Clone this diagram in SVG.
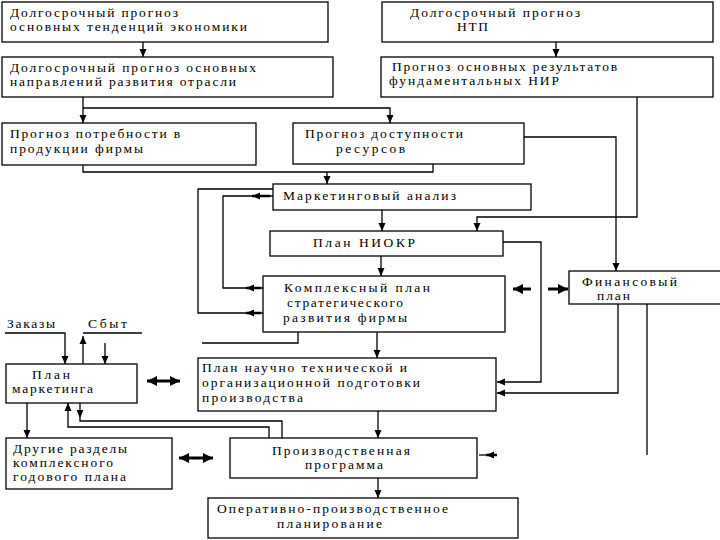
<svg xmlns="http://www.w3.org/2000/svg" width="720" height="540" viewBox="0 0 720 540">
<style>
.box{fill:#fff;stroke:#000;stroke-width:1.3}
.t{font-family:"Liberation Serif","Times New Roman",serif;font-size:13.5px;fill:#000}
.c{fill:none;stroke:#000;stroke-width:1.3}
.a{marker-end:url(#ah)}
.th{fill:none;stroke:#000;stroke-width:3}
</style>
<defs>
<marker id="ah" markerUnits="userSpaceOnUse" markerWidth="9" markerHeight="8" refX="8" refY="4" orient="auto"><path d="M0,0.5 L8,4 L0,7.5 z" fill="#000"/></marker>
<marker id="bh" markerUnits="userSpaceOnUse" markerWidth="11" markerHeight="10" refX="10" refY="5" orient="auto-start-reverse"><path d="M0,0 L10,5 L0,10 z" fill="#000"/></marker>
</defs>
<rect width="720" height="540" fill="#fff"/>

<g id="connectors">
<path class="c a" d="M143,42 V57"/>
<path class="c a" d="M556,42 V57"/>
<path class="c a" d="M83,97 V123"/>
<path class="c a" d="M83,108 H390 V123"/>
<path class="c" d="M83,165 V172 H433 V164"/>
<path class="c a" d="M327,172 V184"/>
<path class="c a" d="M382,210 V231"/>
<path class="c a" d="M381,256 V276"/>
<path class="c a" d="M637,97 V217 H477 V231"/>
<path class="c a" d="M524,137 H616 V271"/>
<path class="c a" d="M503,242 H541 V382 H497"/>
<path class="c a" d="M618,304 V393 H497"/>
<path class="c" d="M647,304 V455"/>
<path class="th" style="marker-end:url(#bh)" d="M531,289 H513"/>
<path class="th" style="marker-end:url(#bh)" d="M548,289 H568"/>
<path class="c" d="M273,196 H223 V288 H263"/>
<path class="c" d="M273,189 H198 V313 H263"/>
<path class="th" style="stroke-width:2.5;marker-end:url(#ah)" d="M270,196 H252"/>
<path class="th" style="stroke-width:2.5;marker-end:url(#ah)" d="M261,288 H246"/>
<path class="th" style="stroke-width:2.5;marker-end:url(#ah)" d="M261,313 H246"/>
<path class="c" d="M298,332 V343 H202"/>
<path class="c a" d="M377,332 V358"/>
<path class="c a" d="M378,411 V438"/>
<path class="c a" d="M378,478 V498"/>
<path class="c" d="M479,455 H490"/>
<path class="th" style="stroke-width:2.5;marker-end:url(#ah)" d="M497,455 H486"/>
<path class="c a" d="M5,333 H65 V364"/>
<path class="c" d="M83,333 H142"/>
<path class="c a" d="M83,364 V336"/>
<path class="c a" d="M105,343 V364"/>
<path class="th" style="marker-start:url(#bh);marker-end:url(#bh)" d="M147,381 H180"/>
<path class="c a" d="M27,403 V438"/>
<path class="c a" d="M80,403 V418"/>
<path class="c" d="M80,418 V421 H282 V438"/>
<path class="c a" d="M269,438 V427 H68 V403"/>
<path class="th" style="marker-start:url(#bh);marker-end:url(#bh)" d="M179,458 H213"/>
</g>

<g id="n1"><rect class="box" x="2" y="2" width="326" height="40"/>
<text class="t" x="10" y="17" textLength="168" lengthAdjust="spacing">Долгосрочный прогноз</text>
<text class="t" x="10" y="31" textLength="237" lengthAdjust="spacing">основных тенденций экономики</text></g>

<g id="n2"><rect class="box" x="2" y="57" width="331" height="40"/>
<text class="t" x="10" y="72" textLength="246" lengthAdjust="spacing">Долгосрочный прогноз основных</text>
<text class="t" x="10" y="86" textLength="226" lengthAdjust="spacing">направлений развития отрасли</text></g>

<g id="n3"><rect class="box" x="2" y="123" width="254" height="42"/>
<text class="t" x="10" y="138" textLength="170" lengthAdjust="spacing">Прогноз потребности в</text>
<text class="t" x="10" y="153" textLength="133" lengthAdjust="spacing">продукции фирмы</text></g>

<g id="n4"><rect class="box" x="293" y="123" width="231" height="41"/>
<text class="t" x="305" y="138" textLength="158" lengthAdjust="spacing">Прогноз доступности</text>
<text class="t" x="336" y="153" textLength="69" lengthAdjust="spacing">ресурсов</text></g>

<g id="n5"><rect class="box" x="382" y="2" width="331" height="40"/>
<text class="t" x="410" y="17" textLength="170" lengthAdjust="spacing">Долгосрочный прогноз</text>
<text class="t" x="457" y="31" textLength="31" lengthAdjust="spacing">НТП</text></g>

<g id="n6"><rect class="box" x="381" y="57" width="332" height="40"/>
<text class="t" x="392" y="71" textLength="225" lengthAdjust="spacing">Прогноз основных результатов</text>
<text class="t" x="389" y="85" textLength="170" lengthAdjust="spacing">фундаментальных НИР</text></g>

<g id="n7"><rect class="box" x="273" y="184" width="258" height="26"/>
<text class="t" x="283" y="200" textLength="173" lengthAdjust="spacing">Маркетинговый анализ</text></g>

<g id="n8"><rect class="box" x="270" y="231" width="233" height="25"/>
<text class="t" x="313" y="247" textLength="102" lengthAdjust="spacing">План НИОКР</text></g>

<g id="n9"><rect class="box" x="263" y="276" width="242" height="56"/>
<text class="t" x="284" y="292" textLength="146" lengthAdjust="spacing">Комплексный план</text>
<text class="t" x="287" y="307" textLength="116" lengthAdjust="spacing">стратегического</text>
<text class="t" x="283" y="322" textLength="124" lengthAdjust="spacing">развития фирмы</text></g>

<g id="n10"><rect class="box" x="569" y="271" width="160" height="33"/>
<text class="t" x="582" y="286" textLength="95" lengthAdjust="spacing">Финансовый</text>
<text class="t" x="597" y="300" textLength="33" lengthAdjust="spacing">план</text></g>

<g id="n11"><rect class="box" x="198" y="358" width="298" height="53"/>
<text class="t" x="202" y="372" textLength="205" lengthAdjust="spacing">План научно технической и</text>
<text class="t" x="202" y="387" textLength="218" lengthAdjust="spacing">организационной подготовки</text>
<text class="t" x="202" y="402" textLength="101" lengthAdjust="spacing">производства</text></g>

<g id="n12"><rect class="box" x="230" y="438" width="247" height="40"/>
<text class="t" x="272" y="455" textLength="138" lengthAdjust="spacing">Производственная</text>
<text class="t" x="305" y="469" textLength="78" lengthAdjust="spacing">программа</text></g>

<g id="n13"><rect class="box" x="208" y="498" width="310" height="40"/>
<text class="t" x="217" y="513" textLength="231" lengthAdjust="spacing">Оперативно-производственное</text>
<text class="t" x="277" y="528" textLength="105" lengthAdjust="spacing">планирование</text></g>

<g id="n14"><rect class="box" x="6" y="364" width="131" height="39"/>
<text class="t" x="32" y="379" textLength="38" lengthAdjust="spacing">План</text>
<text class="t" x="12" y="393" textLength="81" lengthAdjust="spacing">маркетинга</text></g>

<g id="n15"><rect class="box" x="6" y="438" width="166" height="51"/>
<text class="t" x="13" y="453" textLength="114" lengthAdjust="spacing">Другие разделы</text>
<text class="t" x="13" y="467" textLength="100" lengthAdjust="spacing">комплексного</text>
<text class="t" x="13" y="481" textLength="113" lengthAdjust="spacing">годового плана</text></g>

<g id="labels">
<text class="t" x="7" y="328" textLength="48" lengthAdjust="spacing">Заказы</text>
<text class="t" x="88" y="328" textLength="39" lengthAdjust="spacing">Сбыт</text>
</g>
</svg>
